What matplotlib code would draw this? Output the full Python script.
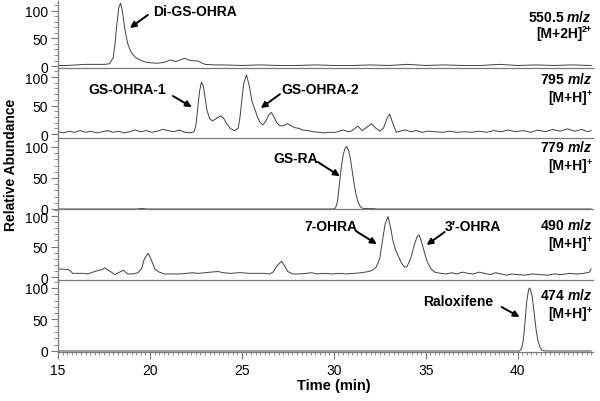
import matplotlib
matplotlib.use('Agg')
import matplotlib.pyplot as plt
from matplotlib.ticker import MultipleLocator

plt.rcParams['font.family'] = ['Liberation Sans', 'DejaVu Sans']
plt.rcParams['mathtext.fontset'] = 'custom'
plt.rcParams['mathtext.rm'] = 'Liberation Sans:bold'
plt.rcParams['mathtext.it'] = 'Liberation Sans:italic:bold'
plt.rcParams['mathtext.bf'] = 'Liberation Sans:bold'

# ---------------- data (time in min, relative abundance) ----------------
t1 = [15.0, 15.5, 16.0, 16.5, 17.0, 17.5, 17.8, 18.0, 18.1, 18.2, 18.3, 18.4, 18.5,
      18.6, 18.7, 18.8, 18.9, 19.0, 19.2, 19.4, 19.6, 19.8, 20.0, 20.4, 20.8, 21.1,
      21.4, 21.9, 22.2, 22.6, 23.0, 23.5, 24.0, 25.0, 26.0, 27.0, 28.0, 29.0, 30.0,
      31.0, 32.0, 33.0, 34.0, 35.0, 36.0, 37.0, 38.0, 39.0, 40.0, 41.0, 42.0, 43.0, 44.0]
y1 = [1, 1, 2, 3, 3, 3, 4, 15, 40, 75, 105, 114, 100,
      75, 55, 40, 31, 24, 16, 12, 9, 7, 6, 5, 7, 11,
      8, 14, 10, 9, 3, 2, 2, 1, 2, 1, 1, 2, 1,
      1, 2, 1, 3, 1, 2, 1, 1, 3, 1, 2, 1, 2, 1]

t2 = [15.0, 15.3, 15.6, 15.9, 16.2, 16.5, 16.8, 17.1, 17.4, 17.7, 18.0, 18.3, 18.6,
      18.9, 19.2, 19.5, 19.8, 20.1, 20.4, 20.7, 21.0, 21.3, 21.6, 21.9, 22.2, 22.4,
      22.5, 22.6, 22.7, 22.8, 22.9, 23.0, 23.1, 23.25, 23.4, 23.6, 23.85, 24.0, 24.2,
      24.4, 24.6, 24.8, 24.9, 25.0, 25.1, 25.25, 25.4, 25.55, 25.7, 25.85, 26.0, 26.15,
      26.3, 26.45, 26.6, 26.75, 26.9, 27.05, 27.2, 27.35, 27.5, 27.7, 27.9, 28.1, 28.3,
      28.6, 28.9, 29.2, 29.5, 29.8, 30.1, 30.5, 30.8, 31.0, 31.3, 31.55, 31.8, 32.05,
      32.3, 32.5, 32.7, 32.9, 33.04, 33.2, 33.4, 33.6, 33.9, 34.2, 34.5, 34.8, 35.1,
      35.5, 35.9, 36.3, 36.7, 37.1, 37.5, 37.9, 38.3, 38.7, 39.1, 39.5, 39.9, 40.3,
      40.7, 41.1, 41.5, 41.9, 42.3, 42.7, 43.1, 43.5, 43.8, 44.0]
y2 = [4, 2, 5, 3, 6, 3, 5, 2, 4, 6, 3, 5, 2,
      4, 7, 4, 6, 3, 5, 8, 6, 4, 7, 3, 2, 4,
      15, 45, 75, 91, 85, 65, 42, 27, 23, 27, 32, 28, 17,
      9, 6, 10, 30, 60, 88, 104, 85, 58, 44, 30, 20, 16,
      22, 33, 38, 30, 20, 15, 14, 16, 18, 14, 11, 10, 7,
      6, 4, 3, 2, 3, 3, 7, 4, 6, 14, 6, 12, 18,
      10, 5, 10, 28, 35, 20, 3, 5, 7, 4, 6, 3, 5,
      4, 3, 5, 3, 4, 3, 5, 3, 6, 4, 7, 4, 6,
      3, 7, 4, 8, 5, 9, 5, 8, 4, 6]

t3 = [15.0, 19.3, 19.55, 19.8, 30.0, 30.1, 30.2, 30.3, 30.4, 30.5, 30.6, 30.7, 30.8,
      30.9, 31.0, 31.1, 31.2, 31.3, 31.4, 31.5, 31.6, 31.8, 32.0, 32.2, 32.3, 44.0]
y3 = [0, 0, 1, 0, 0, 2, 12, 38, 65, 85, 97, 101, 95,
      82, 62, 42, 25, 13, 6, 2, 1, 0.6, 0.6, 0.5, 0, 0]

t4 = [15.0, 15.3, 15.6, 15.8, 16.1, 16.4, 16.6, 16.9, 17.2, 17.4, 17.55, 17.8, 18.1,
      18.35, 18.55, 18.8, 19.05, 19.35, 19.55, 19.7, 19.9, 20.05, 20.27, 20.5, 20.8,
      21.2, 21.6, 22.0, 22.3, 22.6, 23.0, 23.3, 23.7, 24.0, 24.4, 24.8, 25.0, 25.4,
      25.8, 26.2, 26.5, 26.7, 26.9, 27.16, 27.35, 27.5, 27.77, 28.1, 28.5, 28.8, 29.1,
      29.5, 29.9, 30.3, 30.7, 31.1, 31.5, 31.9, 32.1, 32.3, 32.5, 32.65, 32.8, 32.95,
      33.1, 33.2, 33.35, 33.5, 33.7, 33.86, 34.0, 34.2, 34.4, 34.55, 34.64, 34.8, 34.95,
      35.1, 35.3, 35.5, 35.8, 36.1, 36.4, 36.7, 37.0, 37.3, 37.6, 37.9, 38.2, 38.5,
      38.8, 39.1, 39.4, 39.7, 40.0, 40.4, 40.8, 41.2, 41.6, 42.0, 42.4, 42.8, 43.2,
      43.6, 43.9, 44.0]
y4 = [13, 13, 12, 6, 6, 6, 5, 8, 11, 12, 15, 10, 4,
      8, 11, 5, 5, 7, 14, 30, 39, 30, 13, 8, 5,
      5, 5, 6, 7, 6, 7, 8, 9, 7, 6, 7, 7, 6,
      6, 6, 5, 8, 18, 26, 17, 9, 5, 5, 6, 7, 5,
      6, 5, 6, 5, 6, 7, 9, 11, 16, 30, 60, 88, 99,
      80, 62, 45, 35, 22, 16, 18, 32, 55, 67, 69, 55, 38,
      24, 13, 8, 6, 5, 7, 5, 8, 6, 5, 8, 6, 4,
      7, 5, 3, 5, 4, 3, 5, 4, 3, 5, 4, 6, 5,
      6, 8, 13]

t5 = [15.0, 40.1, 40.2, 40.3, 40.4, 40.5, 40.6, 40.65, 40.7, 40.8, 40.9, 41.0, 41.1,
      41.2, 41.3, 41.4, 41.6, 44.0]
y5 = [0, 0, 3, 15, 45, 80, 98, 100, 98, 85, 60, 35, 17,
      7, 2, 0.5, 0, 0]

times = [t1, t2, t3, t4, t5]
values = [y1, y2, y3, y4, y5]

mz_labels = ['550.5 $m/z$', '795 $m/z$', '779 $m/z$', '490 $m/z$', '474 $m/z$']
ion_labels = ['[M+2H]', '[M+H]', '[M+H]', '[M+H]', '[M+H]']
ion_charges = ['2+', '+', '+', '+', '+']

peak_names = ['Di-GS-OHRA', 'GS-OHRA-1', 'GS-OHRA-2', 'GS-RA', '7-OHRA', '3\u2032-OHRA', 'Raloxifene']

# ---------------- layout ----------------
W, H = 600, 402
fig = plt.figure(figsize=(W / 100, H / 100), dpi=100)

left_px, right_px = 58, 593
panels_px = [(2, 69), (69, 139), (139, 210), (210, 281), (281, 353)]
ylims = [(-3.6, 118), (-7, 116), (0, 114.5), (-4.9, 111.5), (-1.6, 112.7)]
label_rows = [(17, 34), (80, 98), (147, 166), (226, 244), (296, 314)]

spine_col = '#7a7a7a'
line_col = '#404040'

axes = []
for i, ((top, bot), yl) in enumerate(zip(panels_px, ylims)):
    ax = fig.add_axes([left_px / W, 1 - bot / H, (right_px - left_px) / W, (bot - top) / H])
    ax.plot(times[i], values[i], color=line_col, lw=0.7)
    ax.set_xlim(15, 44.1)
    ax.set_ylim(*yl)
    ax.patch.set_alpha(0)
    for s in ['top', 'right']:
        ax.spines[s].set_visible(False)
    for s in ['left', 'bottom']:
        ax.spines[s].set_color(spine_col)
        ax.spines[s].set_linewidth(0.9)
    ax.yaxis.set_major_locator(MultipleLocator(50))
    ax.yaxis.set_minor_locator(MultipleLocator(10))
    ax.tick_params(axis='y', which='major', direction='out', length=5, width=0.8,
                   color=spine_col, labelsize=10, pad=2)
    ax.tick_params(axis='y', which='minor', direction='out', length=3, width=0.6,
                   color=spine_col)
    if i < 4:
        ax.tick_params(axis='x', which='both', bottom=False, labelbottom=False)
    else:
        ax.xaxis.set_major_locator(MultipleLocator(5))
        ax.xaxis.set_minor_locator(MultipleLocator(0.25))
        ax.tick_params(axis='x', which='major', direction='out', length=5, width=0.8,
                       color=spine_col, labelsize=10, pad=3)
        ax.tick_params(axis='x', which='minor', direction='out', length=2.5, width=0.6,
                       color=spine_col)
    axes.append(ax)
    r1, r2 = label_rows[i]
    fig.text(592 / W, 1 - r1 / H, mz_labels[i], ha='right', va='center',
             fontsize=10, fontweight='bold')
    sup = fig.text(592 / W, 1 - (r2 - 4) / H, ion_charges[i], ha='right', va='center',
                   fontsize=6.5, fontweight='bold')
    ax.annotate(ion_labels[i], xy=(0, 0.5), xycoords=sup, xytext=(0.3, -2.9),
                textcoords='offset points', ha='right', va='center',
                fontsize=10, fontweight='bold', annotation_clip=False)

# peak annotations: (panel, name, text pos, arrow start, arrow tip) in data coords
ann = [
    (0, peak_names[0], (20.15, 100), (19.89, 92.7), (18.91, 69)),
    (1, peak_names[1], (16.63, 79), (21.25, 66.7), (22.28, 47.4)),
    (1, peak_names[2], (27.15, 79), (27.07, 70), (26.03, 45.6)),
    (2, peak_names[3], (26.74, 82), (29.13, 75.8), (30.33, 53)),
    (3, peak_names[4], (28.42, 83.6), (31.2, 75.4), (32.34, 54)),
    (3, peak_names[5], (36.03, 83.6), (36.03, 73.8), (35.05, 52.5)),
    (4, peak_names[6], (34.84, 79.4), (39.13, 69.8), (40.11, 54)),
]
for p, name, tpos, start, tip in ann:
    ax = axes[p]
    ax.text(tpos[0], tpos[1], name, ha='left', va='center', fontsize=10,
            fontweight='bold', color='black')
    ax.annotate('', xy=tip, xytext=start,
                arrowprops=dict(arrowstyle='-|>', color='black', lw=1.4,
                                mutation_scale=9, shrinkA=0, shrinkB=0))

fig.text(11 / W, 1 - 165 / H, 'Relative Abundance', rotation=90, ha='center',
         va='center', fontsize=10, fontweight='bold')
fig.text(334 / W, 1 - 386 / H, 'Time (min)', ha='center', va='center',
         fontsize=10.5, fontweight='bold')

fig.savefig('out.png', dpi=100)
